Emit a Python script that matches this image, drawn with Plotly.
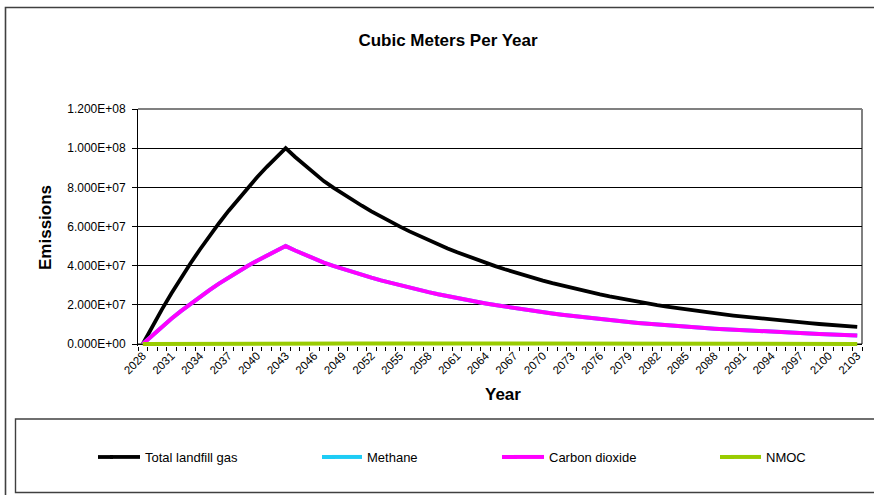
import plotly.graph_objects as go

years = list(range(2028, 2104))

total_landfill_gas = [
    0, 8.98e6, 1.756e7, 2.576e7, 3.361e7, 4.110e7, 4.827e7, 5.512e7, 6.167e7, 6.794e7,
    7.392e7, 7.965e7, 8.512e7, 9.035e7, 9.535e7, 1.000e8, 9.550e7, 9.120e7, 8.710e7, 8.318e7,
    7.984e7, 7.663e7, 7.355e7, 7.060e7, 6.776e7, 6.504e7, 6.243e7, 5.992e7, 5.751e7, 5.520e7,
    5.298e7, 5.085e7, 4.881e7, 4.685e7, 4.497e7, 4.316e7, 4.143e7, 3.976e7, 3.817e7, 3.663e7,
    3.516e7, 3.375e7, 3.239e7, 3.109e7, 2.984e7, 2.864e7, 2.749e7, 2.639e7, 2.533e7, 2.431e7,
    2.333e7, 2.240e7, 2.150e7, 2.063e7, 1.984e7, 1.908e7, 1.835e7, 1.765e7, 1.697e7, 1.632e7,
    1.570e7, 1.510e7, 1.452e7, 1.397e7, 1.343e7, 1.292e7, 1.242e7, 1.195e7, 1.149e7, 1.105e7,
    1.063e7, 1.022e7, 9.83e6, 9.46e6, 9.09e6, 8.75e6,
]

methane = [
    0, 4.49e6, 8.78e6, 1.288e7, 1.681e7, 2.055e7, 2.414e7, 2.756e7, 3.084e7, 3.397e7,
    3.696e7, 3.983e7, 4.256e7, 4.518e7, 4.768e7, 5.000e7, 4.775e7, 4.560e7, 4.355e7, 4.159e7,
    3.992e7, 3.832e7, 3.678e7, 3.530e7, 3.388e7, 3.252e7, 3.122e7, 2.996e7, 2.876e7, 2.760e7,
    2.649e7, 2.543e7, 2.441e7, 2.343e7, 2.249e7, 2.158e7, 2.072e7, 1.988e7, 1.909e7, 1.832e7,
    1.758e7, 1.688e7, 1.620e7, 1.555e7, 1.492e7, 1.432e7, 1.375e7, 1.320e7, 1.267e7, 1.216e7,
    1.167e7, 1.120e7, 1.075e7, 1.032e7, 9.92e6, 9.54e6, 9.18e6, 8.83e6, 8.49e6, 8.16e6,
    7.85e6, 7.55e6, 7.26e6, 6.99e6, 6.72e6, 6.46e6, 6.21e6, 5.98e6, 5.75e6, 5.53e6,
    5.32e6, 5.11e6, 4.92e6, 4.73e6, 4.55e6, 4.38e6,
]

carbon_dioxide = [
    0, 4.49e6, 8.78e6, 1.288e7, 1.681e7, 2.055e7, 2.414e7, 2.756e7, 3.084e7, 3.397e7,
    3.696e7, 3.983e7, 4.256e7, 4.518e7, 4.768e7, 5.000e7, 4.775e7, 4.560e7, 4.355e7, 4.159e7,
    3.992e7, 3.832e7, 3.678e7, 3.530e7, 3.388e7, 3.252e7, 3.122e7, 2.996e7, 2.876e7, 2.760e7,
    2.649e7, 2.543e7, 2.441e7, 2.343e7, 2.249e7, 2.158e7, 2.072e7, 1.988e7, 1.909e7, 1.832e7,
    1.758e7, 1.688e7, 1.620e7, 1.555e7, 1.492e7, 1.432e7, 1.375e7, 1.320e7, 1.267e7, 1.216e7,
    1.167e7, 1.120e7, 1.075e7, 1.032e7, 9.92e6, 9.54e6, 9.18e6, 8.83e6, 8.49e6, 8.16e6,
    7.85e6, 7.55e6, 7.26e6, 6.99e6, 6.72e6, 6.46e6, 6.21e6, 5.98e6, 5.75e6, 5.53e6,
    5.32e6, 5.11e6, 4.92e6, 4.73e6, 4.55e6, 4.38e6,
]

nmoc = [
    0, 3.6e4, 7.0e4, 1.03e5, 1.34e5, 1.64e5, 1.93e5, 2.20e5, 2.47e5, 2.72e5,
    2.96e5, 3.19e5, 3.40e5, 3.61e5, 3.81e5, 4.00e5, 3.82e5, 3.65e5, 3.48e5, 3.33e5,
    3.19e5, 3.07e5, 2.94e5, 2.82e5, 2.71e5, 2.60e5, 2.50e5, 2.40e5, 2.30e5, 2.21e5,
    2.12e5, 2.03e5, 1.95e5, 1.87e5, 1.80e5, 1.73e5, 1.66e5, 1.59e5, 1.53e5, 1.47e5,
    1.41e5, 1.35e5, 1.30e5, 1.24e5, 1.19e5, 1.15e5, 1.10e5, 1.06e5, 1.01e5, 9.7e4,
    9.3e4, 9.0e4, 8.6e4, 8.3e4, 7.9e4, 7.6e4, 7.3e4, 7.1e4, 6.8e4, 6.5e4,
    6.3e4, 6.0e4, 5.8e4, 5.6e4, 5.4e4, 5.2e4, 5.0e4, 4.8e4, 4.6e4, 4.4e4,
    4.3e4, 4.1e4, 3.9e4, 3.8e4, 3.6e4, 3.5e4,
]

x_tick_years = list(range(2028, 2104, 3))
x_tick_labels = [str(y) for y in x_tick_years]
y_tick_values = [0, 2e7, 4e7, 6e7, 8e7, 1e8, 1.2e8]
y_tick_labels = ["0.000E+00", "2.000E+07", "4.000E+07", "6.000E+07",
                 "8.000E+07", "1.000E+08", "1.200E+08"]

series = [
    ("Total landfill gas", total_landfill_gas, "#000000", 3.8),
    ("Methane", methane, "#1ECCF5", 4),
    ("Carbon dioxide", carbon_dioxide, "#FF00FF", 4),
    ("NMOC", nmoc, "#99CC00", 4),
]

FONT = "Liberation Sans, Arial, sans-serif"
W, H = 874, 495
L, R, T, B = 138, 862, 109, 346
PW, PH = R - L, B - T
Y_MAX = 1.2e8
Y_MIN = -(B - 344) / (344 - T) * Y_MAX


def px_x(p):
    return (p - L) / PW


def px_y(p):
    return (B - p) / PH


legend_text_px = [145, 367, 549, 766]
legend_line_start_px = [98, 322, 502, 720]
LEGEND_Y = 457

fig = go.Figure()
for i, (name, vals, color, width) in enumerate(series):
    lg = "legend" if i == 0 else f"legend{i + 1}"
    fig.add_trace(go.Scatter(
        x=years, y=vals, mode="lines", name=name,
        line=dict(color=color, width=width),
        legend=lg, showlegend=True,
    ))

legend_common = dict(
    orientation="h", xanchor="left", yanchor="middle",
    bgcolor="rgba(0,0,0,0)", borderwidth=0,
    font=dict(family=FONT, size=13, color="#000000"),
    itemwidth=30, tracegroupgap=0,
)
layout_legends = {}
for i, tp in enumerate(legend_text_px):
    key = "legend" if i == 0 else f"legend{i + 1}"
    layout_legends[key] = dict(legend_common, x=px_x(tp - 40), y=px_y(LEGEND_Y))

fig.update_layout(
    width=W, height=H,
    margin=dict(l=L, r=W - R, t=T, b=H - B, pad=0),
    paper_bgcolor="#FFFFFF", plot_bgcolor="#FFFFFF",
    font=dict(family=FONT, size=11, color="#000000"),
    title=dict(text="<b>Cubic Meters Per Year</b>", x=448 / W, xanchor="center",
               y=1 - 40 / H, yanchor="middle",
               font=dict(family=FONT, size=17, color="#000000")),
    xaxis=dict(
        range=[2027.5, 2103.5], tickmode="array", tickvals=x_tick_years,
        ticktext=x_tick_labels, tickangle=-45, ticks="", ticklen=0,
        showgrid=False, zeroline=False, showline=False,
        tickfont=dict(family=FONT, size=11.5, color="#000000"),
        minor=dict(tickmode="linear", tick0=2027.5, dtick=1, ticks="outside",
                   ticklen=4, tickcolor="#000000", tickwidth=1, showgrid=False),
    ),
    yaxis=dict(
        range=[Y_MIN, Y_MAX], tickmode="array", tickvals=y_tick_values,
        ticktext=y_tick_labels, ticks="outside", ticklen=5, tickcolor="#000000",
        ticklabelstandoff=4,
        showgrid=True, gridcolor="#000000", gridwidth=1, zeroline=False,
        showline=True, linecolor="#000000", linewidth=1,
        tickfont=dict(family=FONT, size=12, color="#000000"),
    ),
    showlegend=True,
    **layout_legends,
)

shapes = [
    # plot area border (top and right, grey)
    dict(type="line", xref="paper", yref="paper", x0=0, x1=1, y0=1, y1=1,
         line=dict(color="#808080", width=2), layer="below"),
    dict(type="line", xref="paper", yref="paper", x0=1, x1=1, y0=px_y(344), y1=1,
         line=dict(color="#808080", width=2), layer="below"),
    # bottom axis line at zero
    dict(type="line", xref="paper", yref="y", x0=0, x1=1, y0=0, y1=0,
         line=dict(color="#000000", width=1), layer="below"),
    # outer chart border
    dict(type="rect", xref="paper", yref="paper",
         x0=px_x(5.5), x1=px_x(890), y0=px_y(7.5), y1=px_y(520),
         line=dict(color="#404040", width=1.6), fillcolor="rgba(0,0,0,0)", layer="below"),
    # legend box
    dict(type="rect", xref="paper", yref="paper",
         x0=px_x(15.5), x1=px_x(890), y0=px_y(419), y1=px_y(492.5),
         line=dict(color="#404040", width=1.4), fillcolor="rgba(0,0,0,0)", layer="below"),
]
# lengthen legend line samples to match the longer sample keys
for (name, vals, color, width), ls, tp in zip(series, legend_line_start_px, legend_text_px):
    shapes.append(dict(type="line", xref="paper", yref="paper",
                       x0=px_x(ls), x1=px_x(tp - 32), y0=px_y(LEGEND_Y), y1=px_y(LEGEND_Y),
                       line=dict(color=color, width=width)))
fig.update_layout(shapes=shapes)

fig.add_annotation(text="<b>Emissions</b>", textangle=-90, xref="paper", yref="paper",
                   x=px_x(45), y=px_y(228), xanchor="center", yanchor="middle",
                   showarrow=False, font=dict(family=FONT, size=17, color="#000000"))
fig.add_annotation(text="<b>Year</b>", xref="paper", yref="paper",
                   x=px_x(503), y=px_y(394), xanchor="center", yanchor="middle",
                   showarrow=False, font=dict(family=FONT, size=17, color="#000000"))

fig.write_html("out.html", config={"displayModeBar": False},
               post_script="document.body.style.margin='0';")
